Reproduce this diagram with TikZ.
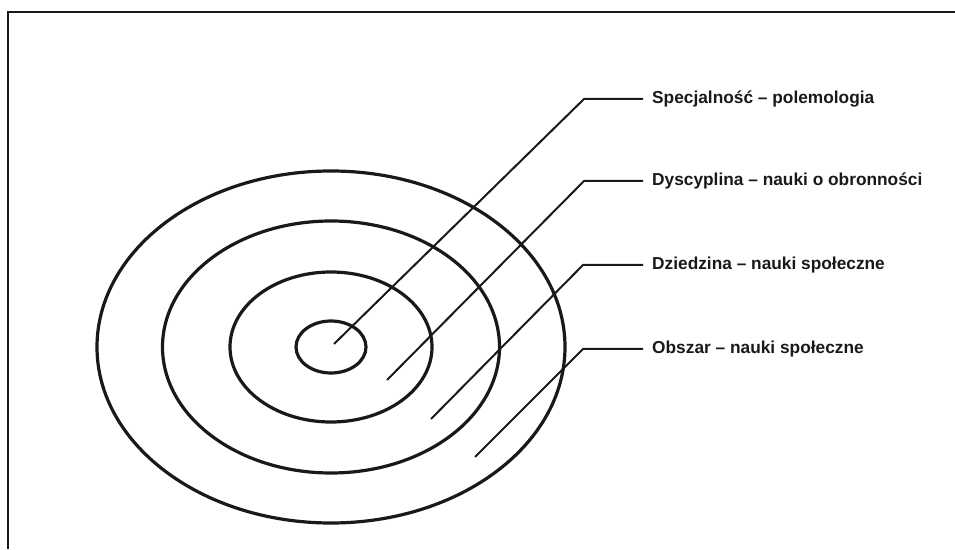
\documentclass[tikz,border=0pt]{standalone}
\usepackage{fontspec}
\setmainfont{Liberation Sans}
\usetikzlibrary{shapes.geometric}
\begin{document}
\begin{tikzpicture}[x=1pt,y=1pt,
  ring/.style={ellipse, draw, line width=3.2pt, inner sep=0pt, color=black!90},
  leader/.style={line width=2pt, color=black!90},
  lbl/.style={anchor=west, inner xsep=9pt, inner ysep=0pt, font=\fontsize{17.3}{20}\selectfont\bfseries, text=black!90}]
\useasboundingbox (0,0) rectangle (955,549);
% frame (top and left edges)
\coordinate (fl) at (8,0);
\coordinate (ftl) at (8,537);
\coordinate (ftr) at (955,537);
\draw[line width=2pt, black!90] (fl) -- (ftl) -- (ftr);
% rings
\node[ring, minimum width=70pt, minimum height=52pt] (r1) at (331,202) {};
\node[ring, minimum width=202pt, minimum height=150pt] (r2) at (331,202) {};
\node[ring, minimum width=337pt, minimum height=252pt] (r3) at (331,202) {};
\node[ring, minimum width=468pt, minimum height=352pt] (r4) at (331,202) {};
% labels
\node[lbl] (t1) at (643,450) {Specjalność – polemologia};
\node[lbl] (t2) at (643,368) {Dyscyplina – nauki o obronności};
\node[lbl] (t3) at (643,284) {Dziedzina – nauki społeczne};
\node[lbl] (t4) at (643,200) {Obszar – nauki społeczne};
% leader start and bend points
\coordinate (s1) at (334,205);
\coordinate (b1) at (584,450);
\coordinate (s2) at (387,169);
\coordinate (b2) at (584,368);
\coordinate (s3) at (431,130);
\coordinate (b3) at (583,284);
\coordinate (s4) at (475,92);
\coordinate (b4) at (583,200);
\draw[leader] (s1) -- (b1) -- (t1.west);
\draw[leader] (s2) -- (b2) -- (t2.west);
\draw[leader] (s3) -- (b3) -- (t3.west);
\draw[leader] (s4) -- (b4) -- (t4.west);
\end{tikzpicture}
\end{document}
